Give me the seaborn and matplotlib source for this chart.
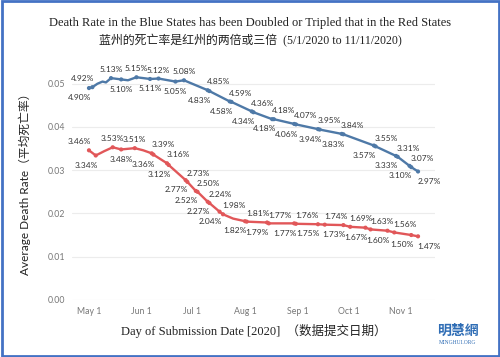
import pandas as pd
import matplotlib
matplotlib.use("Agg")
import matplotlib.pyplot as plt
import matplotlib.dates as mdates
import matplotlib.ticker as mticker
from matplotlib.patches import Rectangle
import seaborn as sns

# blue states (date, death rate in %, label side: a/b = above/below, l/c/r = left/centre/right, '' = no label)
blue_dates = ['05-01', '05-03', '05-06', '05-09', '05-11', '05-14', '05-20', '05-24', '05-29',
              '06-06', '06-11', '06-21', '06-26', '07-10', '07-11', '07-23', '07-24', '08-05',
              '08-06', '08-17', '08-18', '08-30', '08-31', '09-13', '09-14', '09-27', '09-28',
              '10-16', '10-17', '10-29', '10-30', '11-06', '11-07', '11-11']
blue_rate = [4.90, 4.92, 5.00, 5.05, 5.03, 5.13, 5.10, 5.08, 5.15,
             5.11, 5.12, 5.05, 5.08, 4.85, 4.83, 4.59, 4.58, 4.36,
             4.34, 4.18, 4.18, 4.07, 4.06, 3.95, 3.94, 3.84, 3.83,
             3.57, 3.55, 3.33, 3.31, 3.10, 3.07, 2.97]
blue_side = ['bl', 'al', '', '', '', 'ac', 'bc', '', 'ac',
             'bc', 'ac', 'bc', 'ac', 'ar', 'bl', 'ar', 'bl', 'ar',
             'bl', 'ar', 'bl', 'ar', 'bl', 'ar', 'bl', 'ar', 'bl',
             'bl', 'ar', 'bl', 'ar', 'bl', 'ar', 'br']

# red states
red_dates = ['05-01', '05-05', '05-10', '05-15', '05-20', '05-28', '06-02', '06-07', '06-08',
             '06-16', '06-17', '06-27', '06-28', '07-03', '07-04', '07-10', '07-11', '07-17',
             '07-19', '07-25', '08-01', '08-02', '08-14', '08-15', '08-30', '08-31', '09-13',
             '09-17', '09-28', '10-02', '10-11', '10-14', '10-24', '10-28', '11-07', '11-11']
red_rate = [3.46, 3.34, 3.44, 3.53, 3.48, 3.51, 3.46, 3.39, 3.36,
            3.16, 3.12, 2.77, 2.73, 2.52, 2.50, 2.27, 2.24, 2.04,
            1.98, 1.88, 1.82, 1.81, 1.79, 1.77, 1.77, 1.76, 1.75,
            1.74, 1.73, 1.69, 1.67, 1.63, 1.60, 1.56, 1.50, 1.47]
red_side = ['al', 'bl', '', 'ac', 'bc', 'ac', '', 'ar', 'bl',
            'ar', 'bl', 'bl', 'ar', 'bl', 'ar', 'bl', 'ar', 'bl',
            'ar', '', 'bl', 'ar', 'bl', 'ar', 'bl', 'ar', 'bl',
            'ar', 'bl', 'ar', 'bl', 'ar', 'bl', 'ar', 'bl', 'br']

title_en = "Death Rate in the Blue States has been Doubled or Tripled that in the Red States"
title_zh = "蓝州的死亡率是红州的两倍或三倍  (5/1/2020 to 11/11/2020)"
ylabel = "Average Death Rate（平均死亡率）"
xlabel = "Day of Submission Date [2020]  （数据提交日期）"

BLUE = '#4e79a7'
RED = '#e15759'

def make_df(dates, rate, side, group):
    d = pd.DataFrame({'date': pd.to_datetime(['2020-' + s for s in dates]),
                      'rate': [r / 100 for r in rate], 'side': side})
    d['group'] = group
    return d

df = pd.concat([make_df(blue_dates, blue_rate, blue_side, 'Blue'),
                make_df(red_dates, red_rate, red_side, 'Red')], ignore_index=True)

sns.set_theme(style="white")
plt.rcParams['font.family'] = ['Lato', 'Noto Sans CJK SC', 'DejaVu Sans']

fig = plt.figure(figsize=(5, 3.57), dpi=100)
ax = fig.add_axes([0.144, 0.16, 0.726, 0.666])

sns.lineplot(data=df, x='date', y='rate', hue='group', palette={'Blue': BLUE, 'Red': RED},
             linewidth=1.7, legend=False, ax=ax)
marked = df[df['side'] != '']
sns.scatterplot(data=marked, x='date', y='rate', hue='group', palette={'Blue': BLUE, 'Red': RED},
                s=9, linewidth=0, legend=False, ax=ax, zorder=3)

dx = {'l': -7, 'c': 0, 'r': 8}
dy = {'a': 6, 'b': -7}
for _, row in marked.iterrows():
    ax.annotate(f"{row['rate'] * 100:.2f}%", (row['date'], row['rate']),
                xytext=(dx[row['side'][1]], dy[row['side'][0]]), textcoords='offset points',
                ha='center', va='center', fontsize=6.0, color='#333333')

ax.set_xlim(pd.Timestamp('2020-04-21'), pd.Timestamp('2020-11-21'))
ax.set_ylim(0, 0.055)
ax.yaxis.set_major_locator(mticker.MultipleLocator(0.01))
ax.yaxis.set_major_formatter(mticker.FormatStrFormatter('%.2f'))
ax.xaxis.set_major_locator(mdates.MonthLocator(bymonthday=1))
ax.xaxis.set_major_formatter(mticker.FuncFormatter(
    lambda v, p: mdates.num2date(v).strftime('%b ') + str(mdates.num2date(v).day)))
ax.grid(axis='y', color='#ececec', linewidth=0.8)
ax.grid(axis='x', visible=False)
for s in ax.spines.values():
    s.set_visible(False)
ax.tick_params(axis='both', labelsize=6.3, labelcolor='#777777', length=0, pad=5)

ax.set_xlabel(xlabel, family=['Liberation Serif', 'Noto Sans CJK SC'], fontsize=9,
              color='#222222', labelpad=6)
ax.set_ylabel(ylabel, fontsize=8.5, color='#222222', labelpad=12)

fig.text(0.5, 0.935, title_en, ha='center', va='center', fontsize=9,
         family=['Liberation Serif', 'Noto Sans CJK SC'], color='#222222')
fig.text(0.5, 0.885, title_zh, ha='center', va='center', fontsize=8.6,
         family=['Liberation Serif', 'Noto Sans CJK SC'], color='#222222')

fig.text(0.916, 0.073, "明慧網", ha='center', va='center', fontsize=10, fontweight='bold',
         color='#2f6db5', family=['Noto Sans CJK TC'])
fig.text(0.916, 0.04, "MINGHUI.ORG", ha='center', va='center', fontsize=4,
         color='#2f6db5', family=['Liberation Serif'])

fig.patches.append(Rectangle((0.003, 0.004), 0.994, 0.992, transform=fig.transFigure,
                             fill=False, edgecolor='#4472c4', linewidth=2))

fig.savefig('out.png', dpi=100)
